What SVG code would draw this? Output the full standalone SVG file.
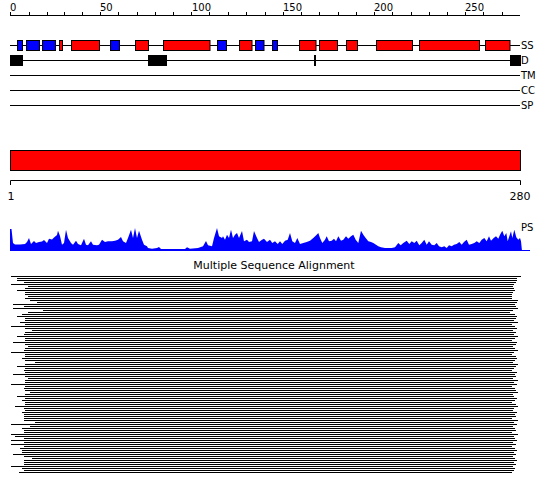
<svg xmlns="http://www.w3.org/2000/svg" width="550" height="495" viewBox="0 0 550 495">
<style>
text{font-family:"DejaVu Sans","Liberation Sans",sans-serif;fill:#000}
.t10{font-size:10px}
.ln{stroke:#000;stroke-width:1;fill:none}
.box{stroke:#000;stroke-width:1}
.r{fill:#ff0000}
.b{fill:#0000ff}
.k{fill:#000}
</style>
<rect width="550" height="495" fill="#fff"/>
<g id="ruler">
<path class="ln" d="M10 15.5H520"/>
<path class="ln" d="M10.5 12V15M29.5 12V15M47.5 12V15M64.5 12V15M82.5 12V15M100.5 12V15M118.5 12V15M137.5 12V15M155.5 12V15M173.5 12V15M191.5 12V15M209.5 12V15M228.5 12V15M246.5 12V15M265.5 12V15M283.5 12V15M301.5 12V15M319.5 12V15M338.5 12V15M356.5 12V15M374.5 12V15M392.5 12V15M411.5 12V15M429.5 12V15M447.5 12V15M465.5 12V15M483.5 12V15M502.5 12V15"/>
<text class="t10" x="10" y="11">0</text>
<text class="t10" x="100" y="11">50</text>
<text class="t10" x="192" y="11">100</text>
<text class="t10" x="283" y="11">150</text>
<text class="t10" x="374" y="11">200</text>
<text class="t10" x="465" y="11">250</text>
</g>
<g id="track-SS">
<path class="ln" d="M10 45.5H520"/>
<rect class="box b" x="17.5" y="40.5" width="5" height="10"/>
<rect class="box b" x="26.5" y="40.5" width="13" height="10"/>
<rect class="box b" x="42.5" y="40.5" width="13" height="10"/>
<rect class="box r" x="59.5" y="40.5" width="3" height="10"/>
<rect class="box r" x="71.5" y="40.5" width="28" height="10"/>
<rect class="box b" x="110.5" y="40.5" width="9" height="10"/>
<rect class="box r" x="135.5" y="40.5" width="13" height="10"/>
<rect class="box r" x="163.5" y="40.5" width="46.5" height="10"/>
<rect class="box b" x="217.5" y="40.5" width="9" height="10"/>
<rect class="box r" x="239.5" y="40.5" width="12.5" height="10"/>
<rect class="box b" x="255.5" y="40.5" width="8.5" height="10"/>
<rect class="box b" x="272.5" y="40.5" width="5" height="10"/>
<rect class="box r" x="299.5" y="40.5" width="16.5" height="10"/>
<rect class="box r" x="319.5" y="40.5" width="18" height="10"/>
<rect class="box r" x="346.5" y="40.5" width="11" height="10"/>
<rect class="box r" x="376.5" y="40.5" width="36" height="10"/>
<rect class="box r" x="419.5" y="40.5" width="60" height="10"/>
<rect class="box r" x="485.5" y="40.5" width="24.5" height="10"/>
<text class="t10" x="521" y="49">SS</text>
</g>
<g id="track-D">
<path class="ln" d="M10 60.5H520"/>
<rect class="box k" x="10.5" y="55.5" width="12" height="10"/>
<rect class="box k" x="148.5" y="55.5" width="18" height="10"/>
<rect class="box k" x="314.5" y="55.5" width="1" height="10"/>
<rect class="box k" x="510.5" y="55.5" width="10" height="10"/>
<text class="t10" x="521" y="64">D</text>
</g>
<g id="track-TM">
<path class="ln" d="M10 75.5H520"/>
<text class="t10" x="521" y="79">TM</text>
</g>
<g id="track-CC">
<path class="ln" d="M10 90.5H520"/>
<text class="t10" x="521" y="94">CC</text>
</g>
<g id="track-SP">
<path class="ln" d="M10 105.5H520"/>
<text class="t10" x="521" y="109">SP</text>
</g>
<g id="sequence">
<rect class="box r" x="10.5" y="150.5" width="510" height="20"/>
<path class="ln" d="M10.5 185V180.5H520.5V185"/>
<text x="11" y="200" font-size="11" text-anchor="middle">1</text>
<text x="520" y="200" font-size="11" text-anchor="middle">280</text>
</g>
<g id="PS">
<path fill="#0000ff" d="M10 251L10 229L11.5 229L13 243L15 244.5L20 244.5L25 244L27 242L29 238L31 244L34 241L36 243L39 242L42 241.5L44 240L47 243L49 238.7L52 239.5L54 237.5L57 235L58 230.7L60 236L62 244.7L64 243L66 229.7L68 238L71 243L73 244.7L76 240.7L78 244L81 245.3L84 238.7L86 244.7L88 245.3L91 241.3L93 244.7L97 245.3L99 244.7L102 239.7L105 242L108 241.3L112 241.3L115 240.7L118 239.7L121 237L123 241.3L126 243L128 238L131 229.7L133 238L135 228L137 238L139 230.7L142 239.7L144 244.7L147 246.3L148 248L152 248.7L157 248L159 247L161 249L175 249L185 249L187 247.3L190 248.7L198 248L203 246.3L206 241L208 245.3L212 246.3L214 238L217 228L219 236.3L222 238L223 236.3L225 239.7L227 234.7L229 238L231 229.7L233 238L235 234.7L237 233L239 238L242 231L244 241.3L247 239.7L249 242L252 241.3L254 231L257 238L259 242L262 239.7L264 238.7L267 242L270 239.7L272.3 243L275 241.3L277.7 244L280 241.3L282.3 244L285 240.7L287.7 239.7L290 233L292.3 241.3L295 243L297.3 238L300 244L303.3 243L306.7 242L310 240.7L313.3 238L316.7 234.7L318.3 233L320 238L322.3 243L325 239.7L326.7 236.3L329 241.3L331.7 240.7L334 238.7L336 241.3L338.3 236.3L341 240.7L343.3 239.7L346 236.3L348.3 238.7L351 236.3L353.3 234.7L355.7 239.7L358.3 243L361 230.7L363.3 234.7L365.7 238L368.3 241.3L371 242L373.3 243L376 244.7L378.3 246.3L381 247.3L385 248L391.7 248L395 247.3L398.3 243L400.7 245.3L403.3 243L406.7 240.7L409.3 244L411.7 241.3L414.3 243L416.7 240.7L419.3 245.3L421.7 243L424.3 239.7L426.7 244.7L429 241.3L431.7 244.7L434.3 245.3L436.7 243L439 246.3L441.7 247.3L444.3 246.3L446.7 248L449 245.3L451.7 246.3L454 244.7L456.7 244L459.3 242L461.7 244.7L464 242L466.7 239.7L469 244.7L471.7 244L474.3 243L476.7 241.3L479.3 243L481.7 239.7L484.3 238L486.7 241.3L489 236.3L491 240.7L493.7 238L496 236.3L498.3 238.7L500 234.7L502.3 230.7L504.3 236.3L506.3 233L507.7 241.3L509.3 236.3L511 231.3L512.3 238L514.3 229.7L516.3 237.3L518.3 239.7L520 238L521 241.3L522 251Z"/>
<path d="M10 250.5H530" stroke="#0000ff" stroke-width="1"/>
<text class="t10" x="521" y="231">PS</text>
</g>
<g id="MSA">
<text x="274" y="269" font-size="11" text-anchor="middle">Multiple Sequence Alignment</text>
<path class="ln" d="M11 276.5H521M17 278.5H517M17 280.5H517M24 282.5H516M11 284.5H514M28 286.5H513M25 288.5H514M17 290.5H515M25 292.5H513M25 294.5H512M28 296.5H512M25 298.5H512M30 300.5H518M37 302.5H517M13 304.5H515M24 306.5H516M13 308.5H518M43 310.5H513M28 312.5H510M22 314.5H515M17 316.5H517M25 318.5H516M25 320.5H514M20 322.5H518M25 324.5H512M11 326.5H515M25 328.5H517M32 330.5H513M25 332.5H516M24 334.5H514M17 336.5H518M25 338.5H515M25 340.5H512M13 342.5H517M25 344.5H516M28 346.5H513M25 348.5H515M24 350.5H518M11 352.5H514M25 354.5H512M25 356.5H516M22 358.5H517M25 360.5H515M35 362.5H513M25 364.5H518M17 366.5H516M25 368.5H514M24 370.5H512M25 372.5H517M13 374.5H515M25 376.5H516M28 378.5H513M25 380.5H518M25 382.5H514M11 384.5H517M25 386.5H512M24 388.5H515M25 390.5H516M30 392.5H518M25 394.5H513M17 396.5H514M25 398.5H517M22 400.5H515M25 402.5H512M25 404.5H516M15 406.5H518M24 408.5H514M25 410.5H513M22 412.5H517M24 414.5H515M24 416.5H516M24 418.5H512M24 420.5H518M35 422.5H514M11 424.5H517M30 426.5H513M22 428.5H515M24 430.5H516M24 432.5H512M11 434.5H518M15 436.5H514M24 438.5H515M11 440.5H517M24 442.5H513M11 444.5H516M24 446.5H512M20 448.5H515M22 450.5H517M22 452.5H514M13 454.5H516M24 456.5H513M32 458.5H515M24 460.5H517M24 462.5H514M24 464.5H516M11 466.5H513M22 468.5H515M24 470.5H514M19 472.5H512"/>
</g>
</svg>
